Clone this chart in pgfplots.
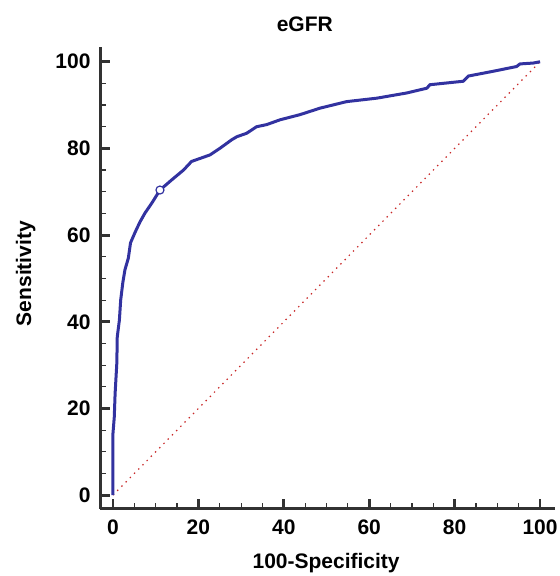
\documentclass[border=0pt]{standalone}
\usepackage{fontspec}
\setmainfont{Liberation Sans}
\usepackage{pgfplots}
\pgfplotsset{compat=1.18}
\definecolor{roc}{RGB}{50,50,160}
\definecolor{diag}{RGB}{200,40,40}
\definecolor{axgray}{RGB}{50,50,50}
\newcommand{\lblfont}{\fontsize{10.5}{12}\selectfont\bfseries}
\begin{document}
\begin{tikzpicture}
\path[use as bounding box] (0,0) rectangle (280pt,288pt);
\begin{axis}[
    at={(50pt,33.5pt)}, anchor=south west,
    scale only axis,
    width=227.5pt, height=231.2pt,
    xmin=-3.04, xmax=103.5,
    ymin=-3.2, ymax=103.5,
    axis lines=left,
    axis line style={-, line width=1.5pt, color=axgray},
    xtick={0,20,...,100}, ytick={0,20,...,100},
    minor x tick num=3, minor y tick num=3,
    tick align=inside,
    major tick length=5pt, minor tick length=3pt,
    tick style={color=axgray},
    major tick style={line width=1.4pt},
    minor tick style={line width=0.6pt},
    /pgf/number format/assume math mode=true,
    ticklabel style={font=\lblfont},
    xticklabel style={yshift=-2pt},
    yticklabel style={xshift=-1.2pt},
    every axis title shift=0pt,
    title={eGFR},
    title style={font=\lblfont, at={(axis description cs:0.45,1)}, anchor=base, yshift=7.4pt},
    xlabel={100-Specificity},
    xlabel style={font=\lblfont, at={(axis description cs:0.497,0)}, anchor=base, yshift=-30pt},
    ylabel={Sensitivity},
    ylabel style={font=\lblfont, at={(axis description cs:-0.1516,0.509)}, anchor=base},
    clip=false,
]
% reference line
\addplot[diag, line width=0.6pt, dash pattern=on 0.7pt off 2.3pt] coordinates {(0,0) (100,100)};
% ROC curve
\addplot[roc, line width=1.5pt, sharp plot, line join=round] coordinates {
(0,0) (0,14.3) (0.3,18) (0.5,23.5) (0.7,27) (0.9,30.5) (1.0,36.5) (1.5,40.4)
(1.8,45) (2.3,49) (2.8,52) (3.6,54.7) (4.1,58.2) (5.2,60.7) (6.3,63) (7.5,65.1)
(9.1,67.4) (11,70.4) (13.7,72.7) (16.5,75) (18.4,77) (22.7,78.5) (25,80)
(27.8,82) (29,82.7) (31.3,83.5) (33.6,85) (36,85.5) (39.1,86.6) (43.8,87.8)
(48.5,89.3) (54.7,90.8) (61.8,91.6) (68.8,92.8) (73.5,93.9) (74.2,94.7)
(82,95.5) (83.2,96.7) (89,97.8) (94.5,98.9) (95.3,99.5) (98.4,99.7) (100,100)
};
% optimal criterion point
\addplot[only marks, mark=*, mark size=2pt, mark options={fill=white, draw=roc, line width=0.6pt}] coordinates {(11,70.4)};
\end{axis}
\end{tikzpicture}
\end{document}
